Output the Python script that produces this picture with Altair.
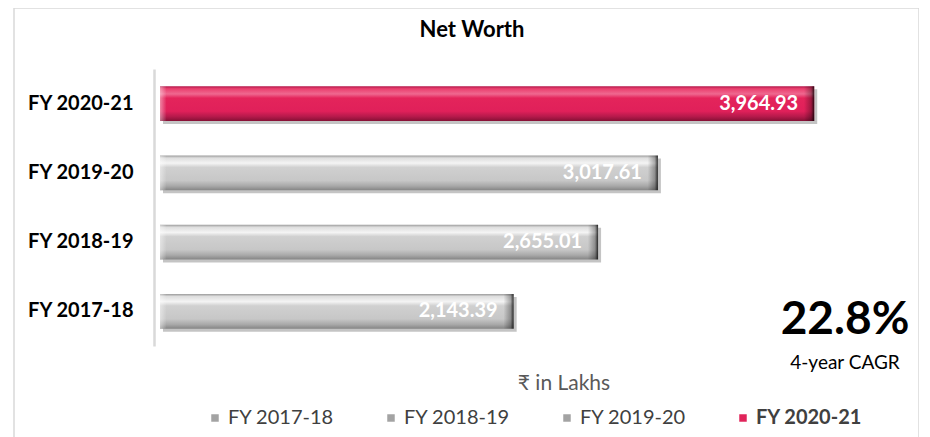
import altair as alt
import pandas as pd

years = ["FY 2017-18", "FY 2018-19", "FY 2019-20", "FY 2020-21"]
values = [2143.39, 2655.01, 3017.61, 3964.93]
value_labels = ["2,143.39", "2,655.01", "3,017.61", "3,964.93"]
order_top_down = ["FY 2020-21", "FY 2019-20", "FY 2018-19", "FY 2017-18"]
highlight = "FY 2020-21"
legend_colors = ["#a3a3a3", "#a3a3a3", "#a3a3a3", "#e0245a"]

title_text = "Net Worth"
cagr_text = "22.8%"
cagr_sub = "4-year CAGR"
unit_text = "₹ in Lakhs"

df = pd.DataFrame({"year": years, "value": values, "label": value_labels})
df["start_end"] = df["value"] - 62
df["left_end"] = 40.0

FONT = "Lato"

x_scale = alt.Scale(domain=[0, 4000], range=[146, 806], nice=False, zero=True)
x_enc = alt.X("value:Q", axis=None, scale=x_scale)
y_enc = alt.Y("year:N", sort=order_top_down, title=None,
              scale=alt.Scale(range=[61, 338], paddingInner=0.5, paddingOuter=0.25),
              axis=alt.Axis(offset=-140, ticks=False, domainColor="#d9d9d9", domainWidth=2.5,
                            labelFont=FONT, labelFontSize=20, labelFontWeight="bold",
                            labelColor="#000000", labelPadding=21, grid=False))

base = alt.Chart(df)


def vgrad(stops):
    return alt.Gradient(gradient="linear", x1=0, x2=0, y1=0, y2=1,
                        stops=[alt.GradientStop(offset=o, color=c) for o, c in stops])


def hgrad(stops):
    return alt.Gradient(gradient="linear", x1=0, x2=1, y1=0, y2=0,
                        stops=[alt.GradientStop(offset=o, color=c) for o, c in stops])


gray_grad = vgrad([(0, "#9c9c9c"), (0.07, "#dedede"), (0.22, "#f4f4f4"), (0.34, "#d0d0d0"),
                   (0.72, "#c7c7c7"), (0.88, "#a8a8a8"), (1, "#858585")])
red_grad = vgrad([(0, "#b3174a"), (0.07, "#ea3f6e"), (0.22, "#ef6890"), (0.34, "#e4245b"),
                  (0.72, "#e0205a"), (0.88, "#b3194a"), (1, "#861035")])

shadow = base.mark_bar(color="#555555", opacity=0.35, xOffset=3, yOffset=3).encode(x=x_enc, y=y_enc)

gray_bars = base.transform_filter(alt.datum.year != highlight).mark_bar(color=gray_grad).encode(
    x=x_enc, y=y_enc)
red_bar = base.transform_filter(alt.datum.year == highlight).mark_bar(color=red_grad).encode(
    x=x_enc, y=y_enc)

end_bevel = base.mark_bar(color=hgrad([(0, "rgba(0,0,0,0)"), (0.7, "rgba(0,0,0,0.3)"),
                                       (1, "rgba(0,0,0,0.8)")])).encode(
    x=alt.X("start_end:Q", axis=None, scale=x_scale),
    x2="value:Q", y=y_enc)

left_bevel = base.mark_bar(color=hgrad([(0, "rgba(255,255,255,0.45)"),
                                        (1, "rgba(255,255,255,0)")])).encode(
    x=alt.X("left_end:Q", axis=None, scale=x_scale),
    x2=alt.datum(0), y=y_enc)

value_text = base.mark_text(align="right", baseline="middle", dx=-16, font=FONT,
                            fontSize=20, fontWeight="bold", color="#ffffff").encode(
    x=x_enc, y=y_enc, text="label:N")

legend_src = base.mark_square(opacity=0, size=1).encode(
    x=x_enc, y=y_enc,
    color=alt.Color("year:N", sort=years,
                    scale=alt.Scale(domain=years, range=legend_colors),
                    legend=alt.Legend(title=None, orient="none", legendX=191, legendY=400,
                                      direction="horizontal", columns=4, symbolType="square",
                                      symbolSize=56, symbolOpacity=1, symbolStrokeWidth=0,
                                      labelFont=FONT, labelFontSize=20, labelColor="#404040",
                                      labelOffset=3, columnPadding=46, gridAlign="all",
                                      labelLimit=200,
                                      labelFontWeight=alt.ExprRef(
                                          "datum.label == 'FY 2020-21' ? 'bold' : 'normal'"))))

title_mark = alt.Chart(pd.DataFrame({"t": [title_text]})).mark_text(
    font=FONT, fontSize=22, fontWeight="bold", color="#000000",
    align="center", baseline="middle").encode(x=alt.value(458), y=alt.value(22), text="t:N")

cagr_mark = alt.Chart(pd.DataFrame({"t": [cagr_text]})).mark_text(
    font=FONT, fontSize=46, fontWeight="bold", color="#000000",
    align="center", baseline="alphabetic").encode(x=alt.value(831), y=alt.value(326), text="t:N")

cagr_sub_mark = alt.Chart(pd.DataFrame({"t": [cagr_sub]})).mark_text(
    font=FONT, fontSize=19, color="#000000", align="center", baseline="middle").encode(
    x=alt.value(831), y=alt.value(355), text="t:N")

unit_mark = alt.Chart(pd.DataFrame({"t": [unit_text]})).mark_text(
    font=FONT, fontSize=21, color="#595959", align="center", baseline="middle").encode(
    x=alt.value(550), y=alt.value(376), text="t:N")

chart = alt.layer(shadow, gray_bars, red_bar, end_bevel, left_bevel, value_text, legend_src,
                  title_mark, cagr_mark, cagr_sub_mark, unit_mark).properties(
    width=905, height=440,
    autosize=alt.AutoSizeParams(type="none"),
    padding={"left": 6, "top": 0, "right": 0, "bottom": 0},
    background="#ffffff",
).configure_view(stroke="#d9d9d9", strokeWidth=1.5)

chart.save("out.html", embed_options={"renderer": "svg", "actions": False})
